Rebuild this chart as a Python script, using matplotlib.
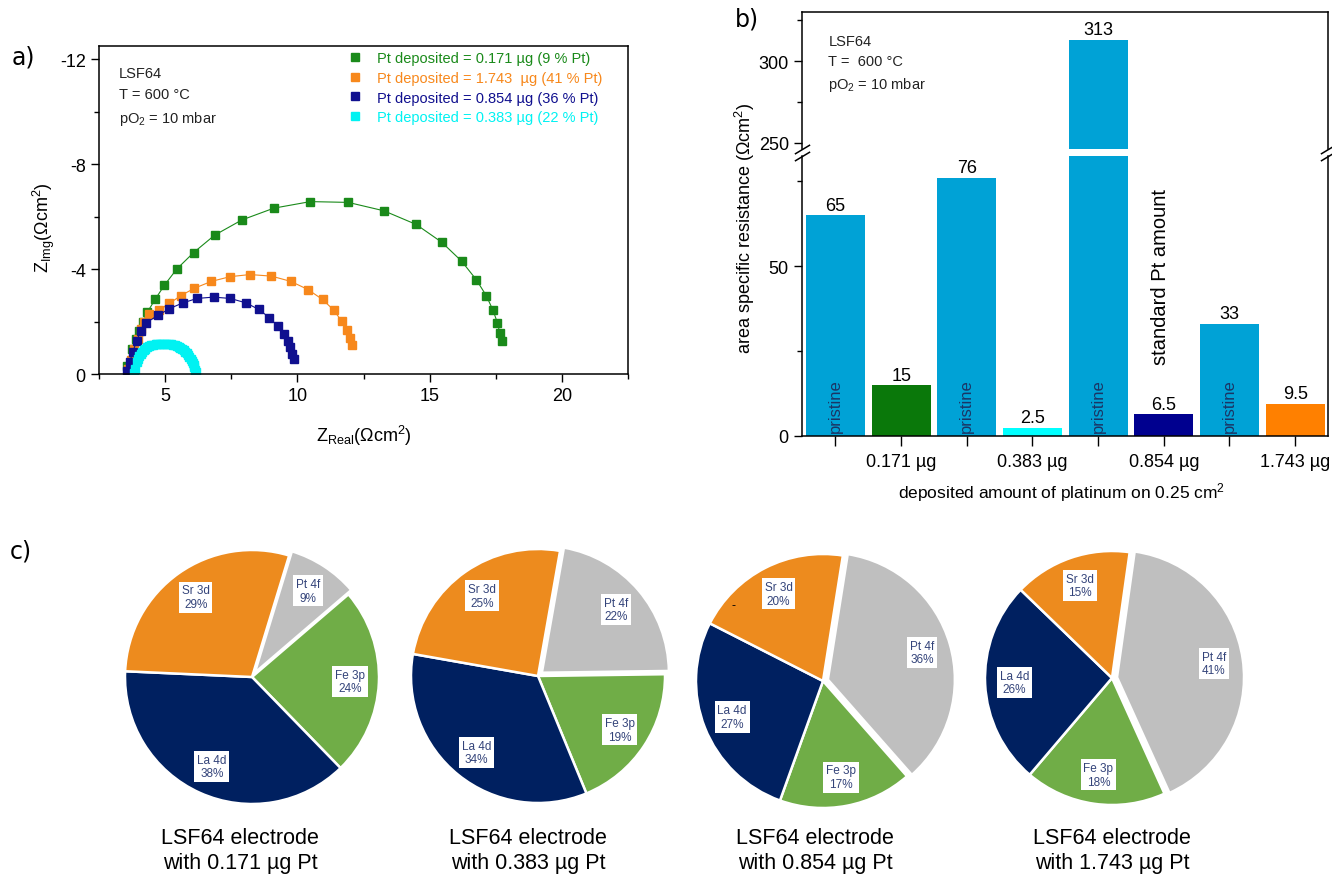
import matplotlib
matplotlib.use('Agg')
import matplotlib.pyplot as plt
import numpy as np

plt.rcParams['font.family'] = ['Liberation Sans', 'DejaVu Sans']
plt.rcParams['mathtext.fontset'] = 'custom'
plt.rcParams['mathtext.rm'] = 'Liberation Sans'
plt.rcParams['mathtext.it'] = 'Liberation Sans:italic'
plt.rcParams['axes.unicode_minus'] = False

# --- impedance spectra (Nyquist), Z_real / Z_img in Ohm cm^2
green_x = [3.57, 3.73, 3.89, 4.02, 4.17, 4.33, 4.62, 4.97, 5.44, 6.08, 6.87, 7.90, 9.11,
           10.49, 11.92, 13.27, 14.49, 15.46, 16.21, 16.76, 17.14, 17.40, 17.56, 17.65, 17.75]
green_y = [-0.32, -0.95, -1.32, -1.64, -1.98, -2.36, -2.84, -3.38, -4.00, -4.63, -5.29, -5.87, -6.32,
           -6.57, -6.54, -6.22, -5.70, -5.02, -4.30, -3.60, -2.99, -2.42, -1.96, -1.58, -1.26]

orange_x = [3.60, 3.70, 3.83, 3.97, 4.10, 4.21, 4.40, 4.75, 5.16, 5.60, 6.11, 6.75, 7.46, 8.21,
            9.02, 9.75, 10.40, 10.95, 11.37, 11.67, 11.87, 11.98, 12.08]
orange_y = [-0.20, -0.55, -0.95, -1.35, -1.70, -1.98, -2.27, -2.42, -2.69, -2.99, -3.27, -3.53, -3.71, -3.79,
            -3.73, -3.53, -3.22, -2.84, -2.44, -2.02, -1.68, -1.39, -1.11]

blue_x = [3.55, 3.66, 3.78, 3.92, 4.07, 4.29, 4.73, 5.16, 5.67, 6.21, 6.83, 7.46, 8.06, 8.54,
          8.94, 9.25, 9.48, 9.63, 9.73, 9.81, 9.86]
blue_y = [-0.10, -0.45, -0.85, -1.25, -1.62, -1.96, -2.23, -2.49, -2.71, -2.88, -2.93, -2.88, -2.71, -2.46,
          -2.15, -1.83, -1.54, -1.26, -1.01, -0.76, -0.57]

cyan_x = [3.83, 3.86, 3.92, 3.97, 4.02, 4.08, 4.13, 4.19, 4.25, 4.32, 4.40, 4.48, 4.56, 4.64, 4.71, 4.80,
          4.89, 4.97, 5.05, 5.13, 5.21, 5.29, 5.37, 5.44, 5.51, 5.57, 5.63, 5.70, 5.76, 5.82, 5.87,
          5.92, 5.97, 6.01, 6.05, 6.08, 6.11, 6.14, 6.16]
cyan_y = [-0.02, -0.19, -0.44, -0.56, -0.67, -0.77, -0.85, -0.92, -0.97, -1.02, -1.06, -1.09, -1.11, -1.13,
          -1.14, -1.15, -1.15, -1.15, -1.15, -1.15, -1.14, -1.12, -1.10, -1.07, -1.03, -0.99, -0.95,
          -0.90, -0.85, -0.79, -0.72, -0.65, -0.57, -0.50, -0.42, -0.34, -0.25, -0.17, -0.09]

spectra_labels = ['Pt deposited = 0.171 µg (9 % Pt)', 'Pt deposited = 1.743  µg (41 % Pt)',
                  'Pt deposited = 0.854 µg (36 % Pt)', 'Pt deposited = 0.383 µg (22 % Pt)']

# --- area specific resistance bars
bar_values = [65, 15, 76, 2.5, 313, 6.5, 33, 9.5]
bar_is_pristine = [True, False, True, False, True, False, True, False]
pt_amounts = ['0.171 µg', '0.383 µg', '0.854 µg', '1.743 µg']

# --- XPS surface composition (%), order: Pt 4f, Fe 3p, La 4d, Sr 3d
peak_names = ['Pt 4f', 'Fe 3p', 'La 4d', 'Sr 3d']
comp_0171 = [9, 24, 38, 29]
comp_0383 = [22, 19, 34, 25]
comp_0854 = [36, 17, 27, 20]
comp_1743 = [41, 18, 26, 15]

W, H = 1332, 878
fig = plt.figure(figsize=(W / 100, H / 100), dpi=100)


def box(l, t, r, b):
    return [l / W, 1 - b / H, (r - l) / W, (b - t) / H]


# ---------------- a) Nyquist plot
ax = fig.add_axes(box(99, 47, 628, 375))
spec_colors = ['#1a8a1a', '#f7881c', '#10108f', '#00f2f2']
for xs, ys, c, lab in zip([green_x, orange_x, blue_x, cyan_x], [green_y, orange_y, blue_y, cyan_y],
                          spec_colors, spectra_labels):
    ax.plot(xs, ys, '-', color=c, lw=0.8)
    ax.plot(xs, ys, 's', color=c, ms=5.5, label=lab, linestyle='none')
ax.set_xlim(2.5, 22.5)
ax.set_ylim(0, -12.5)
ax.set_xticks([5, 10, 15, 20])
ax.set_xticks(np.arange(2.5, 22.6, 2.5), minor=True)
ax.set_yticks([0, -4, -8, -12])
ax.set_yticks([-2, -6, -10], minor=True)
ax.tick_params(direction='out', labelsize=13, length=6, width=1)
ax.tick_params(which='minor', direction='out', length=3.5, width=1)
for s in ax.spines.values():
    s.set_linewidth(1.1)
ax.set_xlabel(r'Z$_{\mathrm{Real}}$(Ωcm$^2$)', fontsize=13)
ax.xaxis.set_label_coords(0.5, -0.148)
ax.set_ylabel(r'Z$_{\mathrm{Img}}$(Ωcm$^2$)', fontsize=13)
ax.yaxis.set_label_coords(-0.08, 0.45)
ax.text(0.038, 0.94, 'LSF64\nT = 600 °C\npO$_2$ = 10 mbar', transform=ax.transAxes,
        fontsize=10.5, va='top', ha='left', linespacing=1.65, color='#222222')
leg = ax.legend(loc='upper left', bbox_to_anchor=(0.47, 0.985), frameon=False, fontsize=10.5,
                handletextpad=1.0, labelspacing=0.4, borderaxespad=0, borderpad=0,
                handlelength=1.0, labelcolor='linecolor')

# ---------------- b) broken-axis bar chart
pos = np.arange(len(bar_values))
bar_colors = ['#00a2d6', '#0a780a', '#00a2d6', '#00ffff', '#00a2d6', '#00008f', '#00a2d6', '#ff8000']
ax_hi = fig.add_axes(box(802, 13, 1328, 150))
ax_lo = fig.add_axes(box(802, 157, 1328, 437))
for a in (ax_hi, ax_lo):
    a.bar(pos, bar_values, width=0.9, color=bar_colors)
    a.set_xlim(-0.51, 7.5)
    a.tick_params(direction='out', labelsize=13, length=6, width=1)
    a.tick_params(which='minor', direction='out', length=3.5, width=1)
    for s in a.spines.values():
        s.set_linewidth(1.1)
ax_hi.set_ylim(246.3, 330)
ax_lo.set_ylim(0, 82.4)
ax_hi.spines['bottom'].set_visible(False)
ax_lo.spines['top'].set_visible(False)
ax_hi.tick_params(axis='x', which='both', bottom=False, labelbottom=False)
ax_hi.set_yticks([250, 300])
ax_hi.set_yticks([275, 325], minor=True)
ax_lo.set_yticks([0, 50])
ax_lo.set_yticks([25, 75], minor=True)
ax_lo.set_xticks(pos)
ax_lo.set_xticklabels(['' if p else pt_amounts[i // 2] for i, p in enumerate(bar_is_pristine)])
ax_lo.tick_params(axis='x', length=7, pad=5)

# break marks on both spines
d = 0.6
kw = dict(marker=[(-1, -d), (1, d)], markersize=11, linestyle='none', color='k', mec='k', mew=1.1,
          clip_on=False)
ax_hi.plot([0, 1], [0, 0], transform=ax_hi.transAxes, **kw)
ax_lo.plot([0, 1], [1, 1], transform=ax_lo.transAxes, **kw)

for i, v in enumerate(bar_values):
    a = ax_hi if v > ax_lo.get_ylim()[1] else ax_lo
    a.annotate(f'{v:g}', (i, v), xytext=(0, 1), textcoords='offset points',
               ha='center', va='bottom', fontsize=13)
    if bar_is_pristine[i]:
        ax_lo.text(i, 1.3, 'pristine', rotation=90, ha='center', va='bottom',
                   fontsize=12, color='#1b3565')
ax_lo.text(4.95, 47, 'standard Pt amount', rotation=90, ha='center', va='center', fontsize=14.5)
ax_hi.text(0.05, 0.84, 'LSF64\nT =  600 °C\npO$_2$ = 10 mbar', transform=ax_hi.transAxes,
           fontsize=10.5, va='top', ha='left', linespacing=1.55, color='#222222')
fig.text(745 / W, 1 - 228 / H, 'area specific resistance (Ωcm$^2$)', rotation=90,
         ha='center', va='center', fontsize=13)
fig.text(1062 / W, 1 - 493 / H, 'deposited amount of platinum on 0.25 cm$^2$',
         ha='center', va='center', fontsize=12.5)

# ---------------- c) XPS pies
pie_colors = ['#bfbfbf', '#70ad47', '#002060', '#ed8b1e']
pies = [(comp_0171, '0.171 µg', 73, 252, 678, 240),
        (comp_0383, '0.383 µg', 80, 538, 677, 528),
        (comp_0854, '0.854 µg', 81, 823, 682, 815),
        (comp_1743, '1.743 µg', 82, 1112, 679, 1112)]
r = 127
for comp, amount, start, cx, cy, tx in pies:
    pa = fig.add_axes(box(cx - 1.1 * r, cy - 1.1 * r, cx + 1.1 * r, cy + 1.1 * r))
    wedges, _ = pa.pie(comp, colors=pie_colors, startangle=start, counterclock=False,
                       explode=[0.04, 0, 0, 0], radius=1,
                       wedgeprops=dict(edgecolor='white', linewidth=1.8))
    pa.set_xlim(-1.1, 1.1)
    pa.set_ylim(-1.1, 1.1)
    for w, name, v in zip(wedges, peak_names, comp):
        ang = np.deg2rad((w.theta1 + w.theta2) / 2)
        x = w.center[0] + 0.77 * np.cos(ang)
        y = w.center[1] + 0.77 * np.sin(ang)
        pa.text(x, y, f'{name}\n{v}%', ha='center', va='center', fontsize=8.5, color='#34447a',
                linespacing=1.15, bbox=dict(fc='white', ec='none', pad=2))
    fig.text(tx / W, 1 - 851 / H, f'LSF64 electrode\nwith {amount} Pt', ha='center', va='center',
             fontsize=15.5, linespacing=1.25)

fig.text(734 / W, 1 - 606 / H, '-', ha='center', va='center', fontsize=9)

# panel letters
fig.text(12 / W, 1 - 57 / H, 'a)', fontsize=17, family='DejaVu Sans', va='center')
fig.text(735 / W, 1 - 20 / H, 'b)', fontsize=17, family='DejaVu Sans', va='center')
fig.text(10 / W, 1 - 552 / H, 'c)', fontsize=17, family='DejaVu Sans', va='center')

fig.savefig('out.png', dpi=100)
